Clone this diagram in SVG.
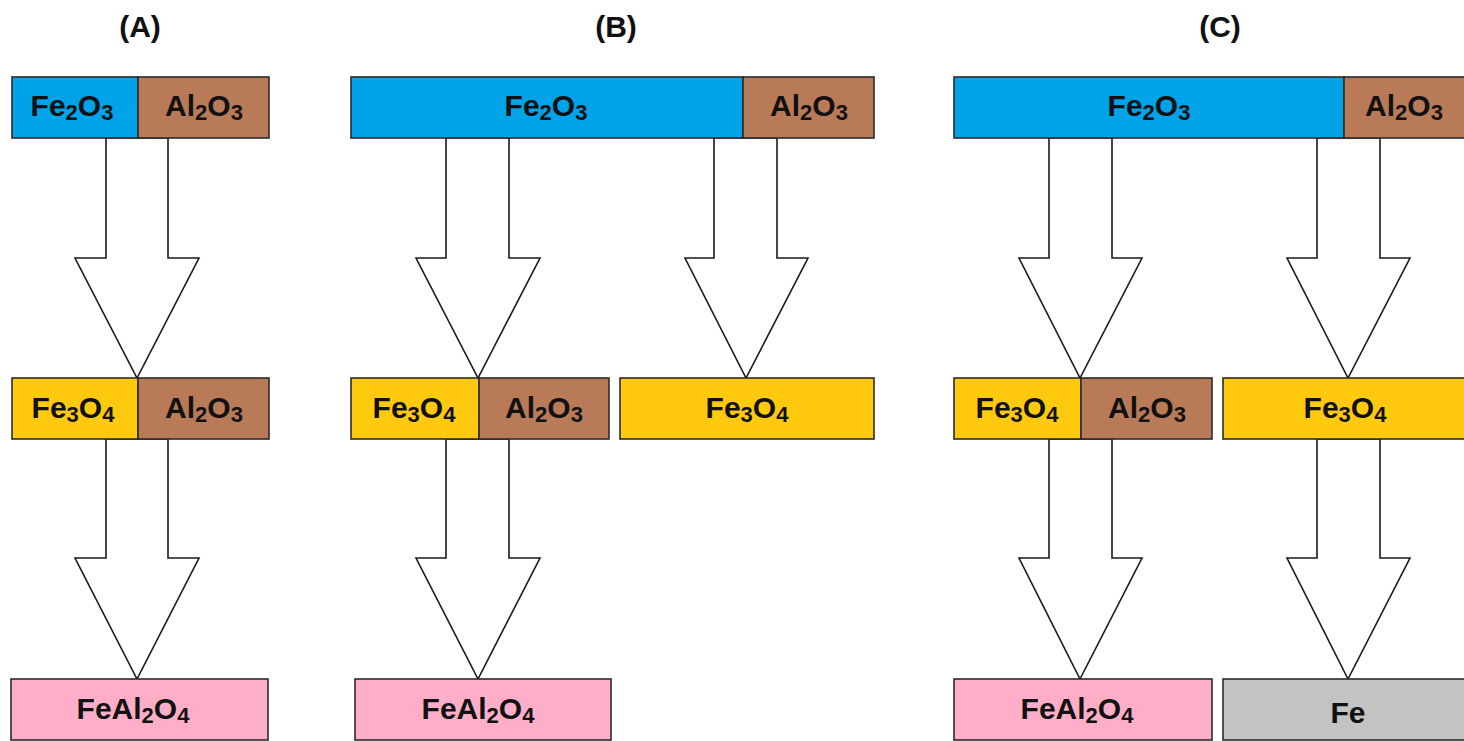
<svg xmlns="http://www.w3.org/2000/svg" width="1464" height="741" viewBox="0 0 1464 741">
  <style>
    .box { stroke: #2b2b2b; stroke-width: 1.6; }
    .fe2o3 { fill: #00A2E8; }
    .al2o3 { fill: #B97A57; }
    .fe3o4 { fill: #FFC90E; }
    .feal { fill: #FFAEC9; }
    .fe { fill: #C3C3C3; }
    .lbl { font-family: "Liberation Sans", Arial, sans-serif; font-weight: bold; font-size: 30px; fill: #111; text-anchor: middle; }
    .sub { font-size: 22px; }
    .ttl { font-family: "Liberation Sans", Arial, sans-serif; font-weight: bold; font-size: 30px; fill: #111; text-anchor: middle; }
    .arr { fill: #fff; stroke: #1a1a1a; stroke-width: 1.6; stroke-linejoin: miter; }
  </style>

  <rect width="1464" height="741" fill="#fff"/>

  <!-- panel titles -->
  <g id="titles">
    <text class="ttl" x="140" y="37">(A)</text>
    <text class="ttl" x="616" y="37">(B)</text>
    <text class="ttl" x="1220" y="37">(C)</text>
  </g>

  <!-- block arrows -->
  <g id="connectors">
    <!-- (A) -->
    <polygon class="arr" points="106,138 106,258 75,258 137,378 199,258 168,258 168,138"/>
    <polygon class="arr" points="106,439 106,558 75,558 137,679 199,558 168,558 168,439"/>
    <!-- (B) -->
    <polygon class="arr" points="446,138 446,258 416,258 478,378 540,258 509,258 509,138"/>
    <polygon class="arr" points="714,138 714,258 685,258 746,378 808,258 777,258 777,138"/>
    <polygon class="arr" points="446,439 446,558 416,558 478,679 540,558 509,558 509,439"/>
    <!-- (C) -->
    <polygon class="arr" points="1049,138 1049,258 1019,258 1080,378 1142,258 1112,258 1112,138"/>
    <polygon class="arr" points="1317,138 1317,258 1287,258 1348,378 1410,258 1380,258 1380,138"/>
    <polygon class="arr" points="1049,439 1049,558 1019,558 1080,679 1142,558 1112,558 1112,439"/>
    <polygon class="arr" points="1317,439 1317,558 1287,558 1348,679 1410,558 1380,558 1380,439"/>
  </g>

  <!-- (A) nodes -->
  <g id="a-top">
    <rect class="box fe2o3" x="12" y="77" width="126" height="61"/>
    <rect class="box al2o3" x="138" y="77" width="131" height="61"/>
    <text class="lbl" x="72" y="116">Fe<tspan class="sub" dy="4">2</tspan><tspan dy="-4">O</tspan><tspan class="sub" dy="4">3</tspan></text>
    <text class="lbl" x="204" y="116">Al<tspan class="sub" dy="4">2</tspan><tspan dy="-4">O</tspan><tspan class="sub" dy="4">3</tspan></text>
  </g>
  <g id="a-mid">
    <rect class="box fe3o4" x="12" y="378" width="126" height="61"/>
    <rect class="box al2o3" x="138" y="378" width="131" height="61"/>
    <text class="lbl" x="73" y="418">Fe<tspan class="sub" dy="4">3</tspan><tspan dy="-4">O</tspan><tspan class="sub" dy="4">4</tspan></text>
    <text class="lbl" x="204" y="418">Al<tspan class="sub" dy="4">2</tspan><tspan dy="-4">O</tspan><tspan class="sub" dy="4">3</tspan></text>
  </g>
  <g id="a-bottom">
    <rect class="box feal" x="11" y="679" width="257" height="61"/>
    <text class="lbl" x="133" y="719">FeAl<tspan class="sub" dy="4">2</tspan><tspan dy="-4">O</tspan><tspan class="sub" dy="4">4</tspan></text>
  </g>

  <!-- (B) nodes -->
  <g id="b-top">
    <rect class="box fe2o3" x="351" y="77" width="392" height="61"/>
    <rect class="box al2o3" x="743" y="77" width="131" height="61"/>
    <text class="lbl" x="546" y="116">Fe<tspan class="sub" dy="4">2</tspan><tspan dy="-4">O</tspan><tspan class="sub" dy="4">3</tspan></text>
    <text class="lbl" x="809" y="116">Al<tspan class="sub" dy="4">2</tspan><tspan dy="-4">O</tspan><tspan class="sub" dy="4">3</tspan></text>
  </g>
  <g id="b-mid-left">
    <rect class="box fe3o4" x="351" y="378" width="128" height="61"/>
    <rect class="box al2o3" x="479" y="378" width="130" height="61"/>
    <text class="lbl" x="414" y="418">Fe<tspan class="sub" dy="4">3</tspan><tspan dy="-4">O</tspan><tspan class="sub" dy="4">4</tspan></text>
    <text class="lbl" x="544" y="418">Al<tspan class="sub" dy="4">2</tspan><tspan dy="-4">O</tspan><tspan class="sub" dy="4">3</tspan></text>
  </g>
  <g id="b-mid-right">
    <rect class="box fe3o4" x="620" y="378" width="254" height="61"/>
    <text class="lbl" x="747" y="418">Fe<tspan class="sub" dy="4">3</tspan><tspan dy="-4">O</tspan><tspan class="sub" dy="4">4</tspan></text>
  </g>
  <g id="b-bottom">
    <rect class="box feal" x="355" y="679" width="256" height="61"/>
    <text class="lbl" x="478" y="719">FeAl<tspan class="sub" dy="4">2</tspan><tspan dy="-4">O</tspan><tspan class="sub" dy="4">4</tspan></text>
  </g>

  <!-- (C) nodes -->
  <g id="c-top">
    <rect class="box fe2o3" x="954" y="77" width="390" height="61"/>
    <rect class="box al2o3" x="1344" y="77" width="130" height="61"/>
    <text class="lbl" x="1149" y="116">Fe<tspan class="sub" dy="4">2</tspan><tspan dy="-4">O</tspan><tspan class="sub" dy="4">3</tspan></text>
    <text class="lbl" x="1404" y="116">Al<tspan class="sub" dy="4">2</tspan><tspan dy="-4">O</tspan><tspan class="sub" dy="4">3</tspan></text>
  </g>
  <g id="c-mid-left">
    <rect class="box fe3o4" x="954" y="378" width="127" height="61"/>
    <rect class="box al2o3" x="1081" y="378" width="131" height="61"/>
    <text class="lbl" x="1017" y="418">Fe<tspan class="sub" dy="4">3</tspan><tspan dy="-4">O</tspan><tspan class="sub" dy="4">4</tspan></text>
    <text class="lbl" x="1147" y="418">Al<tspan class="sub" dy="4">2</tspan><tspan dy="-4">O</tspan><tspan class="sub" dy="4">3</tspan></text>
  </g>
  <g id="c-mid-right">
    <rect class="box fe3o4" x="1223" y="378" width="251" height="61"/>
    <text class="lbl" x="1345" y="418">Fe<tspan class="sub" dy="4">3</tspan><tspan dy="-4">O</tspan><tspan class="sub" dy="4">4</tspan></text>
  </g>
  <g id="c-bottom-left">
    <rect class="box feal" x="954" y="679" width="258" height="61"/>
    <text class="lbl" x="1077" y="719">FeAl<tspan class="sub" dy="4">2</tspan><tspan dy="-4">O</tspan><tspan class="sub" dy="4">4</tspan></text>
  </g>
  <g id="c-bottom-right">
    <rect class="box fe" x="1223" y="679" width="251" height="61"/>
    <text class="lbl" x="1348" y="723">Fe</text>
  </g>
</svg>
